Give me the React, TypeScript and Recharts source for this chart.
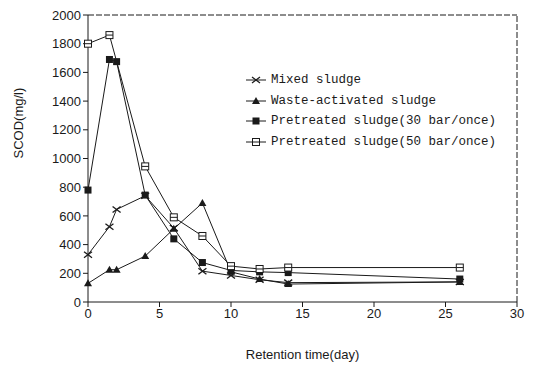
import React from 'react';
import { LineChart, Line, XAxis, YAxis, ReferenceLine } from 'recharts';

const days = [0, 1.5, 2, 4, 6, 8, 10, 12, 14, 26];
const mixed = [330, 525, 645, 740, 515, 215, 185, 155, 135, 140];
const wasteActivated = [130, 225, 225, 320, 510, 690, 210, 160, 125, 140];
const pre30 = [780, 1690, 1675, 745, 440, 275, 220, 210, 205, 160];
const pre50 = [1800, 1860, null, 945, 590, 460, 250, 230, 240, 240];

const xTicks = [0, 5, 10, 15, 20, 25, 30];
const yTicks = [0, 200, 400, 600, 800, 1000, 1200, 1400, 1600, 1800, 2000];

const seriesNames = [
  'Mixed sludge',
  'Waste-activated sludge',
  'Pretreated sludge(30 bar/once)',
  'Pretreated sludge(50 bar/once)',
];

const data = days.map((d, i) => ({
  day: d,
  mixed: mixed[i],
  waste: wasteActivated[i],
  p30: pre30[i],
  p50: pre50[i],
}));

const INK = '#1a1a1a';

const Cross = ({ cx, cy }: any) =>
  cx == null || cy == null ? null : (
    <g stroke={INK} strokeWidth={1.3}>
      <line x1={cx - 4} y1={cy - 3} x2={cx + 4} y2={cy + 3} />
      <line x1={cx - 4} y1={cy + 3} x2={cx + 4} y2={cy - 3} />
    </g>
  );

const Tri = ({ cx, cy }: any) =>
  cx == null || cy == null ? null : (
    <polygon points={`${cx},${cy - 4} ${cx - 4},${cy + 3} ${cx + 4},${cy + 3}`} fill={INK} />
  );

const FilledSq = ({ cx, cy }: any) =>
  cx == null || cy == null ? null : (
    <rect x={cx - 3.5} y={cy - 3.5} width={7} height={7} fill={INK} />
  );

const OpenSq = ({ cx, cy }: any) =>
  cx == null || cy == null ? null : (
    <g>
      <rect x={cx - 3.5} y={cy - 3.5} width={7} height={7} fill="#fff" stroke={INK} strokeWidth={1} />
      <line x1={cx - 3.5} y1={cy} x2={cx + 3.5} y2={cy} stroke={INK} strokeWidth={1} />
    </g>
  );

const markers = [Cross, Tri, FilledSq, OpenSq];

const LegendBox = () => (
  <div
    style={{
      position: 'absolute',
      left: 244,
      top: 70,
      fontFamily: '"Liberation Mono", monospace',
      fontSize: 12.5,
      color: INK,
    }}
  >
    {seriesNames.map((name, i) => {
      const M = markers[i];
      return (
        <div key={name} style={{ display: 'flex', alignItems: 'center', height: 20.5 }}>
          <svg width={24} height={12}>
            <line x1={2} y1={6} x2={22} y2={6} stroke={INK} strokeWidth={1} />
            <M cx={12} cy={6} />
          </svg>
          <span style={{ marginLeft: 3 }}>{name}</span>
        </div>
      );
    })}
  </div>
);

export default function App() {
  return (
    <div style={{ position: 'absolute', left: 0, top: 0, width: 534, height: 373, background: '#fff' }}>
      <LineChart
        width={534}
        height={373}
        data={data}
        margin={{ top: 15, right: 17, left: 0, bottom: 0 }}
        style={{ fontFamily: '"Liberation Sans", Arial, sans-serif' }}
      >
        <XAxis
          dataKey="day"
          type="number"
          domain={[0, 30]}
          ticks={xTicks}
          height={71}
          stroke={INK}
          tickSize={5}
          tick={{ fill: INK, fontSize: 13 }}
          label={{ value: 'Retention time(day)', position: 'insideBottom', offset: 14, fill: INK, fontSize: 13 }}
        />
        <YAxis
          type="number"
          domain={[0, 2000]}
          ticks={yTicks}
          width={88}
          stroke={INK}
          tickSize={5}
          interval={0}
          tick={{ fill: INK, fontSize: 13 }}
          label={{ value: 'SCOD(mg/l)', angle: -90, position: 'insideLeft', offset: 18, fill: INK, fontSize: 13 }}
        />
        <ReferenceLine y={2000} stroke={INK} strokeDasharray="6 2" />
        <ReferenceLine x={30} stroke={INK} strokeDasharray="6 2" />
        <Line dataKey="mixed" name={seriesNames[0]} stroke={INK} strokeWidth={1} dot={<Cross />} isAnimationActive={false} />
        <Line dataKey="waste" name={seriesNames[1]} stroke={INK} strokeWidth={1} dot={<Tri />} isAnimationActive={false} />
        <Line dataKey="p30" name={seriesNames[2]} stroke={INK} strokeWidth={1} dot={<FilledSq />} isAnimationActive={false} />
        <Line dataKey="p50" name={seriesNames[3]} stroke={INK} strokeWidth={1} dot={<OpenSq />} connectNulls isAnimationActive={false} />
      </LineChart>
      <LegendBox />
    </div>
  );
}
